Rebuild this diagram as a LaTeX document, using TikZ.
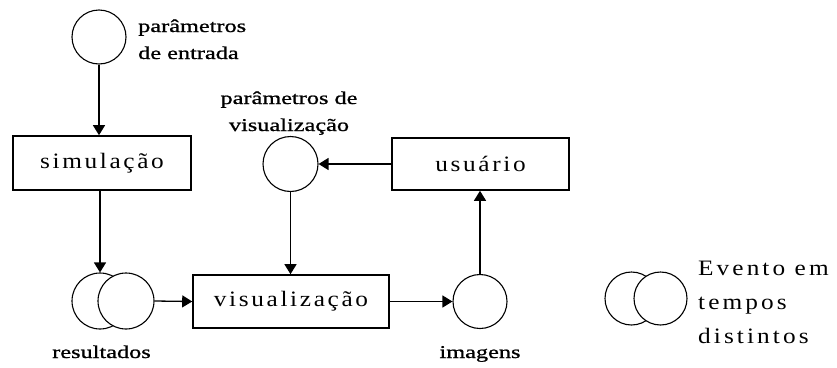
\documentclass[tikz,border=0pt]{standalone}
\usepackage{fontspec}
\setmainfont{Liberation Serif}
\newfontfamily\boxfont[FakeStretch=1.15,LetterSpace=12]{Liberation Serif}
\newfontfamily\legfont[FakeStretch=1.15,LetterSpace=14]{Liberation Serif}
\newfontfamily\lblfont[FakeStretch=1.35,FakeBold=1]{Liberation Serif}
\usetikzlibrary{arrows.meta}
\begin{document}
\begin{tikzpicture}[x=1pt,y=-1pt,
  ln/.style={line width=1.3pt},
  arr/.style={ln,-{Triangle[length=10pt,width=12pt]}},
  ev/.style={circle,draw,line width=1.1pt,minimum size=55pt,inner sep=0pt,fill=white},
  boxn/.style={rectangle,draw,line width=1.6pt,inner sep=0pt,font=\boxfont\fontsize{22}{26}\selectfont},
  lbl/.style={font=\lblfont\fontsize{18}{27}\selectfont,inner sep=0pt},
  leg/.style={font=\legfont\fontsize{22}{34}\selectfont,inner sep=0pt,align=left}]
\useasboundingbox (0,0) rectangle (837,367);
% nodes
\node[ev,minimum size=54pt] (c1) at (99,37) {};
\node[lbl,anchor=base west,align=left] (l1) at (138,59) {parâmetros\\de entrada};
\node[boxn,minimum width=178pt,minimum height=54pt] (sim) at (102,163) {simulação};
\node[ev,minimum size=56pt] (r1) at (100,301) {};
\node[ev,minimum size=56pt] (r2) at (126,301) {};
\node[lbl,anchor=base] (lr) at (101.5,358) {resultados};
\node[boxn,minimum width=196pt,minimum height=53pt] (vis) at (291,301.5) {visualização};
\node[ev] (pv) at (290.5,164) {};
\node[lbl,align=center,anchor=base] (lpv) at (289,131) {parâmetros de\\visualização};
\node[boxn,minimum width=177pt,minimum height=52pt] (usu) at (480.5,164) {usuário};
\node[ev,minimum size=54pt] (img) at (480,301.5) {};
\node[lbl,anchor=base] (li) at (480,358) {imagens};
\node[ev,minimum size=53pt] (e1) at (631.5,298.5) {};
\node[ev,minimum size=53pt] (e2) at (660.5,298.5) {};
\node[leg,anchor=base west] (le) at (698,343) {Evento em\\tempos\\distintos};
% connectors
\draw[arr] (c1.south) -- (c1.south |- sim.north);
\draw[arr] (r1.north |- sim.south) -- (r1.north);
\draw[arr] (r2.east) -- (vis.west);
\draw[arr] (pv.south) -- (pv.south |- vis.north);
\draw[arr] (usu.west) -- (pv.east);
\draw[arr] (vis.east) -- (img.west);
\draw[arr] (img.north) -- (img.north |- usu.south);
\end{tikzpicture}
\end{document}
